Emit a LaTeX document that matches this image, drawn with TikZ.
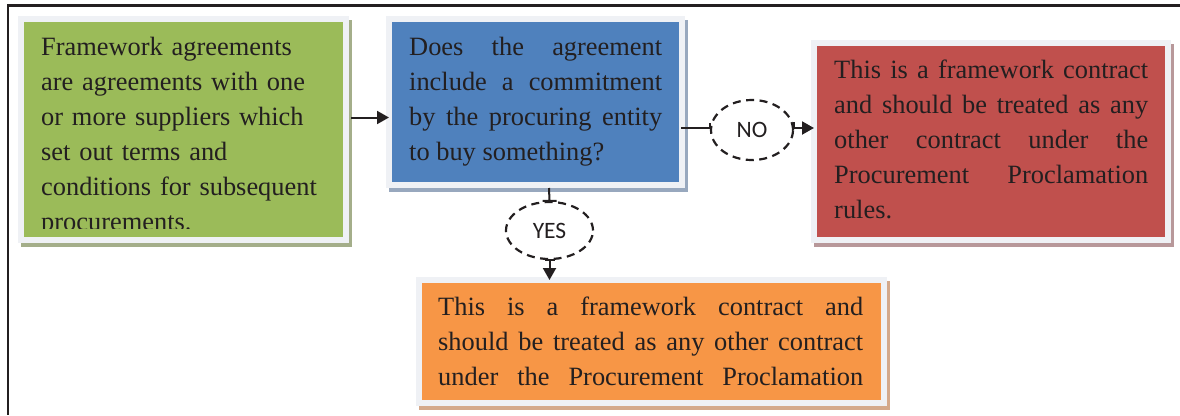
\documentclass[tikz,border=0pt]{standalone}
\usepackage{fontspec}
\setmainfont{Liberation Serif}
\newfontfamily\labelfont{Carlito}
\usetikzlibrary{arrows.meta,calc,shapes.geometric,shadows}

\definecolor{inkdark}{HTML}{231F20}
\definecolor{cardedge}{HTML}{EFF1F5}
\definecolor{fwgreen}{HTML}{9BBB59}
\definecolor{qblue}{HTML}{4F81BD}
\definecolor{noRed}{HTML}{C0504D}
\definecolor{yesOrange}{HTML}{F79646}
\definecolor{gshadow}{HTML}{A4AE8A}
\definecolor{bshadow}{HTML}{98A8BE}
\definecolor{rshadow}{HTML}{B8989A}
\definecolor{oshadow}{HTML}{D4A98B}

\begin{document}
\begin{tikzpicture}[x=1pt,y=-1pt,
  card/.style={rectangle, draw=cardedge, line width=6pt, inner sep=0pt, outer sep=0pt},
  cardshadow/.style={drop shadow={shadow xshift=3pt, shadow yshift=-4pt, opacity=1,
      fill=#1, draw=#1, line width=6pt}},
  cardtext/.style={anchor=base west, inner sep=0pt, text=inkdark,
      font=\fontsize{26.4}{35}\selectfont},
  choice/.style={ellipse, draw=inkdark, line width=2.2pt, dash pattern=on 8pt off 5.5pt,
      inner sep=0pt, text=inkdark, font=\labelfont\fontsize{23.5}{25}\selectfont},
  conn/.style={draw=inkdark, line width=2pt},
  tip/.style={-{Triangle[length=12pt,width=13pt]}},
  frame/.style={draw=inkdark, line width=2.4pt}
]
\useasboundingbox (0,0) rectangle (1180,415);

% outer frame (top and left edges)
\draw[frame] (1180,5.5) -- (8,5.5) -- (8,415);

% cards
\node[card, fill=fwgreen, cardshadow=gshadow, minimum width=325pt, minimum height=221pt]
  (framework) at (183.5,129.5) {};
\node[card, fill=qblue, cardshadow=bshadow, minimum width=293pt, minimum height=166pt]
  (question) at (535.5,102) {};
\node[card, fill=noRed, cardshadow=rshadow, minimum width=354pt, minimum height=197pt]
  (verdict) at (991,141.5) {};
\node[card, fill=yesOrange, cardshadow=oshadow, minimum width=465pt, minimum height=123pt]
  (outcome) at (651,341.5) {};

% card texts
\begin{scope}
  \clip ($(framework.north west)+(3,3)$) rectangle ($(framework.south east)+(-3,-12)$);
  \node[cardtext, text width=290pt, align=left] (frameworktext) at (41,55)
    {Framework agreements\\ are agreements with one\\ or more suppliers which\\
     set out terms and\\ conditions for subsequent\\ procurements.};
\end{scope}

\node[cardtext, text width=253pt, align=justify] (questiontext) at (409,55)
  {Does the agreement\linebreak include a commitment\linebreak
   by the procuring entity\linebreak to buy something?};

\node[cardtext, text width=314pt, align=justify] (verdicttext) at (834,78)
  {This is a framework contract\linebreak and should be treated as any\linebreak
   other contract under the\linebreak Procurement Proclamation\linebreak rules.};

% every line of this text is set to the full width
\node[cardtext, text width=425pt, align=justify] (outcometext) at (438,315)
  {This is a framework contract and\linebreak
   should be treated as any other contract\linebreak
   under the Procurement Proclamation\linebreak};

% decision labels
\node[choice, minimum width=82pt, minimum height=60pt] (no) at (752,130) {NO};
\node[choice, minimum width=87pt, minimum height=57pt] (yes) at (549.5,230.5) {YES};

% connectors
\draw[conn, tip] ($(framework.east)+(5,-12)$) -- ($(question.west)+(0,15.5)$);

\draw[conn] ($(question.east)+(-1,26)$) -| ($(no.west)+(0,-7)$);
\draw[conn, tip] ($(no.east)+(0,-8)$) |- ($(verdict.west)+(0,-13.5)$);

\draw[conn] ($(question.south)+(13.5,3)$) -- (yes.north)
            ($(yes.north)+(-7,0)$) -- ($(yes.north)+(7,0)$);
\draw[conn] ($(yes.south)+(-5,0)$) -- ($(yes.south)+(5,0)$);
\draw[conn, tip] (yes.south) -- (yes.south |- outcome.north);
\end{tikzpicture}
\end{document}
